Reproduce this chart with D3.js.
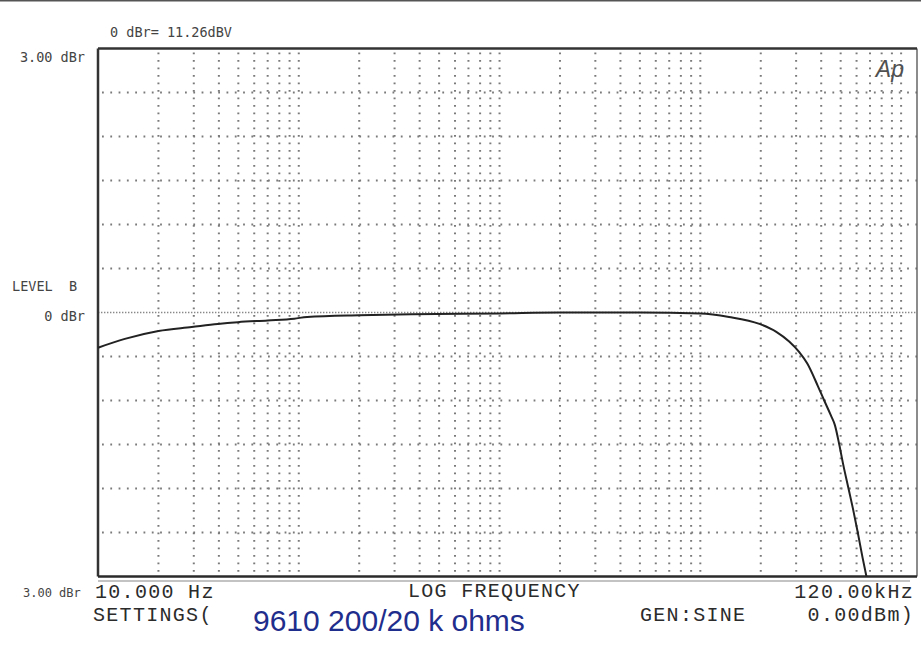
<!DOCTYPE html>
<html>
<head>
<meta charset="utf-8">
<script src="https://cdn.jsdelivr.net/npm/d3@7"></script>
<style>
  body { margin: 0; background: #fff; }
  .plot { font-family: "DejaVu Sans Mono", monospace; fill: #444; font-size: 13.5px; }
  .mono { font-family: "Liberation Mono", "Courier New", monospace; fill: #2b2b2b; font-size: 20px; letter-spacing: 1.3px; }
</style>
</head>
<body>
<div id="chart"></div>
<script>
// measured response, level B (dBr) vs frequency (Hz)
let freqs = [10, 13.6, 20, 29.3, 39.5, 49.7, 70, 95, 110, 200, 364, 1000, 2000, 5000, 10000,
    13900, 19700, 23900, 27700, 31100, 34100, 38400, 41400, 44700, 46800, 49200,
    51400, 54700, 57700, 60600, 64200, 67200]

let levels = [-0.40, -0.30, -0.21, -0.165, -0.13, -0.11, -0.09, -0.07, -0.05, -0.03, -0.02, -0.01, 0, 0, -0.01,
    -0.05, -0.13, -0.22, -0.33, -0.45, -0.58, -0.83, -1.0, -1.17, -1.28, -1.5,
    -1.72, -2.0, -2.24, -2.48, -2.78, -3.0]

// grid positions
let freqGrid = [20, 30, 40, 50, 60, 70, 80, 90,
    100, 200, 300, 400, 500, 600, 700, 800, 900,
    1000, 2000, 3000, 4000, 5000, 6000, 7000, 8000, 9000,
    10000, 20000, 30000, 40000, 50000, 60000, 70000, 80000, 90000, 100000]
let levelGrid = [2.5, 2, 1.5, 1, 0.5, -0.5, -1, -1.5, -2, -2.5]

let W = 921, H = 645
let plotL = 98, plotR = 917, plotT = 48.5, plotB = 576.5

var svg = d3.select("#chart").append("svg")
    .attr("width", W)
    .attr("height", H)

var x = d3.scaleLog().domain([10, 120000]).range([plotL, plotR])
var y = d3.scaleLinear().domain([3, -3]).range([plotT, plotB])

// scan edge at top
svg.append("line")
    .attr("x1", 0).attr("x2", W).attr("y1", 0.5).attr("y2", 0.5)
    .style("stroke", "#555").style("stroke-width", 2)

// dotted grid
svg.selectAll(".vgrid")
    .data(freqGrid)
    .enter().append("line")
    .attr("class", "vgrid")
    .attr("x1", d => x(d)).attr("x2", d => x(d))
    .attr("y1", plotT + 4).attr("y2", plotB)
    .style("stroke", "#7a7a7a")
    .style("stroke-width", 2)
    .style("stroke-dasharray", "1.8 5.7")

svg.selectAll(".hgrid")
    .data(levelGrid)
    .enter().append("line")
    .attr("class", "hgrid")
    .attr("x1", plotL + 4).attr("x2", plotR)
    .attr("y1", d => y(d)).attr("y2", d => y(d))
    .style("stroke", "#7a7a7a")
    .style("stroke-width", 2)
    .style("stroke-dasharray", "1.8 6.5")

// 0 dBr reference
svg.append("line")
    .attr("x1", plotL).attr("x2", plotR)
    .attr("y1", y(0)).attr("y2", y(0))
    .style("stroke", "#888")
    .style("stroke-width", 1.6)
    .style("stroke-dasharray", "1.4 1.6")

// frame
svg.append("line")
    .attr("x1", plotR).attr("x2", plotR).attr("y1", plotT).attr("y2", plotB)
    .style("stroke", "#666").style("stroke-width", 1.5)
svg.append("line")
    .attr("x1", plotL).attr("x2", plotR).attr("y1", plotT).attr("y2", plotT)
    .style("stroke", "#333").style("stroke-width", 2.5)
svg.append("line")
    .attr("x1", plotL).attr("x2", plotL).attr("y1", plotT).attr("y2", plotB)
    .style("stroke", "#333").style("stroke-width", 2.5)
svg.append("line")
    .attr("x1", plotL).attr("x2", plotR).attr("y1", plotB).attr("y2", plotB)
    .style("stroke", "#2a2a2a").style("stroke-width", 2.5)
svg.append("line")
    .attr("x1", plotL).attr("x2", 910).attr("y1", plotB + 4.5).attr("y2", plotB + 4.5)
    .style("stroke", "#888").style("stroke-width", 1.2)

// response curve
var line = d3.line()
    .x((d, i) => x(freqs[i]))
    .y(d => y(d))
    .curve(d3.curveMonotoneX)

svg.append("path")
    .datum(levels)
    .attr("d", line)
    .style("fill", "none")
    .style("stroke", "#222")
    .style("stroke-width", 2)

// labels
svg.append("text").attr("class", "plot").attr("x", 110).attr("y", 37).text("0 dBr= 11.26dBV")
svg.append("text").attr("class", "plot").attr("x", 85).attr("y", 62).style("text-anchor", "end").text("3.00 dBr")
svg.append("text").attr("class", "plot").attr("x", 12).attr("y", 291).attr("xml:space", "preserve").text("LEVEL  B")
svg.append("text").attr("class", "plot").attr("x", 85).attr("y", 321).style("text-anchor", "end").text("0 dBr")
svg.append("text").attr("class", "plot").attr("x", 23).attr("y", 597).style("font-size", "12px").text("3.00 dBr")

svg.append("text")
    .attr("x", 904).attr("y", 77)
    .style("text-anchor", "end")
    .style("font-family", "Liberation Sans, Arial, sans-serif")
    .style("font-style", "italic")
    .style("font-size", "23px")
    .style("fill", "#505050")
    .text("Ap")

svg.append("text").attr("class", "mono").attr("x", 95).attr("y", 598).text("10.000 Hz")
svg.append("text").attr("class", "mono").attr("x", 408).attr("y", 596.5).text("LOG FREQUENCY")
svg.append("text").attr("class", "mono").attr("x", 914).attr("y", 598).style("text-anchor", "end").text("120.00kHz")
svg.append("text").attr("class", "mono").attr("x", 93).attr("y", 621).text("SETTINGS(")
svg.append("text").attr("class", "mono").attr("x", 640).attr("y", 621).text("GEN:SINE")
svg.append("text").attr("class", "mono").attr("x", 914).attr("y", 621).style("text-anchor", "end").text("0.00dBm)")

svg.append("text")
    .attr("x", 253).attr("y", 630.5)
    .style("font-family", "Liberation Sans, Arial, sans-serif")
    .style("font-size", "30px")
    .style("fill", "#1f2d8c")
    .text("9610 200/20 k ohms")
</script>
</body>
</html>
